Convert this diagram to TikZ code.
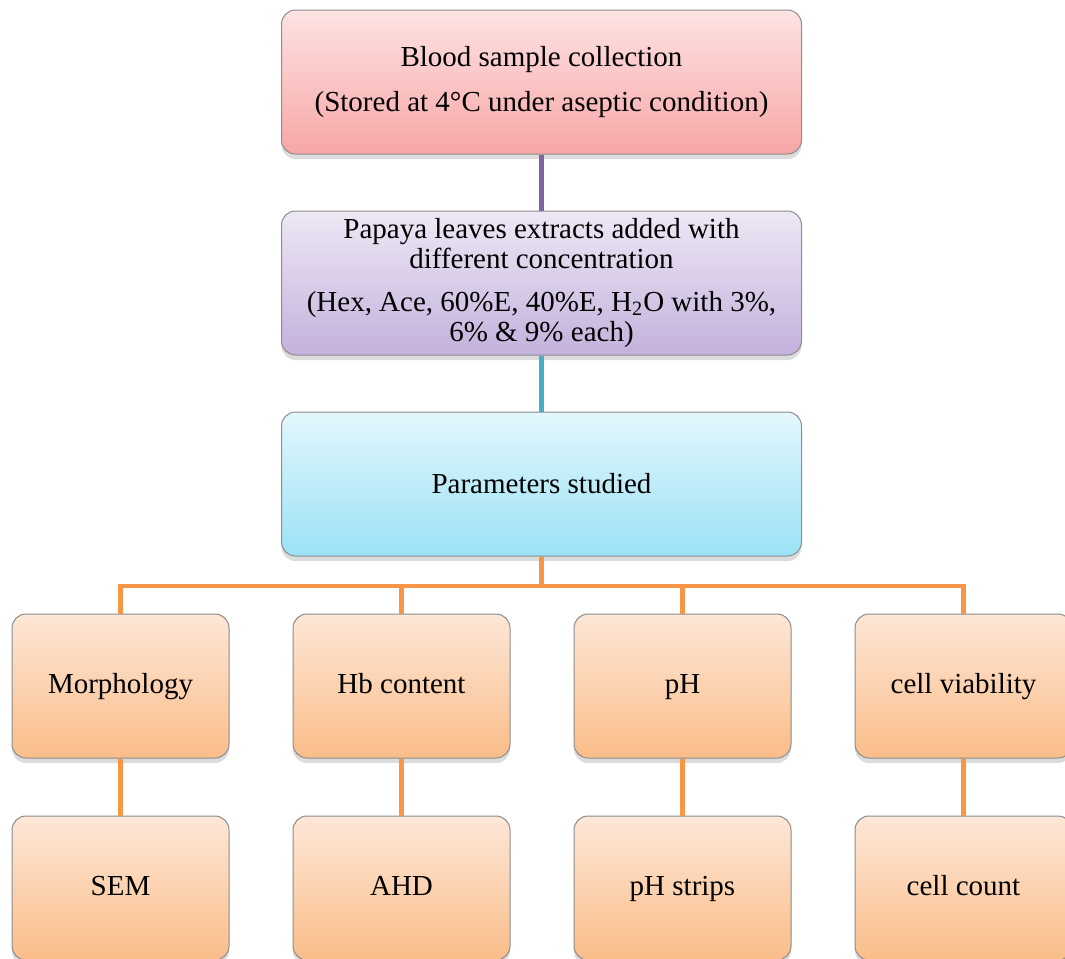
\documentclass[tikz,border=0pt]{standalone}
\usepackage{fontspec}
\setmainfont{Liberation Serif}
\usetikzlibrary{positioning,shadows}
\definecolor{pinkT}{HTML}{FDE3E3}
\definecolor{pinkB}{HTML}{F8A6A6}
\definecolor{lilaT}{HTML}{EEE8F5}
\definecolor{lilaB}{HTML}{C4B1DC}
\definecolor{cyanT}{HTML}{E2F7FC}
\definecolor{cyanB}{HTML}{9CE2F6}
\definecolor{orT}{HTML}{FDE7D7}
\definecolor{orB}{HTML}{FABD89}
\definecolor{lnPurple}{HTML}{8064A2}
\definecolor{lnTeal}{HTML}{4BACC6}
\definecolor{lnOrange}{HTML}{F79646}

\begin{document}
\begin{tikzpicture}[
  x=0.5pt,y=-0.5pt,
  font=\fontsize{14.5}{15}\selectfont,
  box/.style={draw=black!45,line width=0.5pt,rounded corners=7pt,
              align=center,inner sep=2pt,
              drop shadow={opacity=0.28,shadow xshift=0pt,shadow yshift=-2.5pt}},
  wide/.style={box,minimum width=260pt,minimum height=72pt},
  cellbox/.style={box,minimum width=108.5pt,minimum height=72pt,
                  text height=0.85em,text depth=0.1em,
                  top color=orT,bottom color=orB},
  link/.style={line width=2.2pt}
]
\useasboundingbox (0,0) rectangle (1065,958);
\clip (0,0) rectangle (1065,958);
\def\CX{541.5}
\def\RA{686}
\def\RB{888}
% main chain
\node[wide,top color=pinkT,bottom color=pinkB] (blood) at (\CX,82)
  {Blood sample collection\\[7.5pt]
   (Stored at 4°C under aseptic condition)};
\node[wide,top color=lilaT,bottom color=lilaB] (extract) at (\CX,283)
  {Papaya leaves extracts added with\\
   different concentration\\[6.5pt]
   (Hex, Ace, 60\%E, 40\%E, H\textsubscript{2}O with 3\%,\\
   6\% \& 9\% each)};
\node[wide,top color=cyanT,bottom color=cyanB] (param) at (\CX,484)
  {Parameters studied};
% parameters
\node[cellbox] (morph) at (120.5,\RA) {Morphology};
\node[cellbox] (hb)    at (401.5,\RA) {Hb content};
\node[cellbox] (ph)    at (682.5,\RA) {pH};
\node[cellbox] (viab)  at (963.5,\RA) {cell viability};
% methods
\node[cellbox] (sem)   at (120.5,\RB) {SEM};
\node[cellbox] (ahd)   at (401.5,\RB) {AHD};
\node[cellbox] (strip) at (682.5,\RB) {pH strips};
\node[cellbox] (count) at (963.5,\RB) {cell count};
% connectors
\coordinate (split) at (\CX,586);
\draw[link,lnPurple] (blood.south) -- (extract.north);
\draw[link,lnTeal] (extract.south) -- (param.north);
\draw[link,lnOrange] (param.south) -- (split);
\draw[link,lnOrange] (morph.north) |- (split) -| (viab.north);
\draw[link,lnOrange] (hb.north) |- (split);
\draw[link,lnOrange] (ph.north) |- (split);
\foreach \a/\b in {morph/sem,hb/ahd,ph/strip,viab/count}
  \draw[link,lnOrange] (\a.south) -- (\b.north);
\end{tikzpicture}
\end{document}
